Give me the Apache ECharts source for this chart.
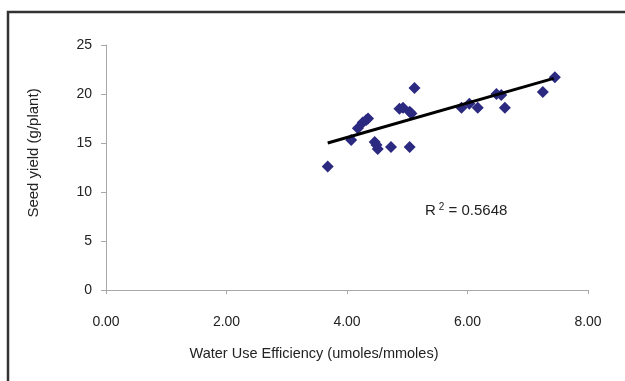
<!DOCTYPE html>
<html>
<head>
<meta charset="utf-8">
<script src="https://cdn.jsdelivr.net/npm/echarts@6/dist/echarts.min.js"></script>
<style>
html,body{margin:0;padding:0;background:#fff;}
#chart{width:625px;height:381px;}
</style>
</head>
<body>
<div id="chart"></div>
<script>
const wueValues = [3.68, 4.07, 4.18, 4.26, 4.32, 4.35, 4.46, 4.51, 4.49, 4.73, 4.87, 4.93, 5.04, 5.07, 5.12, 5.04, 5.90, 6.03, 6.17, 6.48, 6.56, 6.62, 7.25, 7.45];
const yieldValues = [12.6, 15.3, 16.5, 17.1, 17.35, 17.5, 15.1, 14.4, 14.8, 14.6, 18.5, 18.6, 18.2, 18.0, 20.6, 14.6, 18.6, 19.0, 18.6, 20.0, 19.9, 18.6, 20.2, 21.7];
const trendX = [3.68, 7.43];
const trendY = [15.0, 21.6];
const xTitle = 'Water Use Efficiency (umoles/mmoles)';
const yTitle = 'Seed yield (g/plant)';
const r2Text = '0.5648';

const points = wueValues.map((x, i) => [x, yieldValues[i]]);
const trend = trendX.map((x, i) => [x, trendY[i]]);

const chart = echarts.init(document.getElementById('chart'));
const font = 'Liberation Sans, Arial, sans-serif';
chart.setOption({
  animation: false,
  backgroundColor: '#fff',
  grid: { left: 106, right: 37, top: 45, bottom: 91 },
  xAxis: {
    type: 'value', min: 0, max: 8, interval: 2,
    axisLine: { show: true, lineStyle: { color: '#a8a8a8', width: 1 } },
    axisTick: { show: true, length: 4, lineStyle: { color: '#a8a8a8' } },
    axisLabel: { color: '#222', fontSize: 14, fontFamily: font, margin: 25,
      formatter: v => v.toFixed(2) },
    splitLine: { show: false }
  },
  yAxis: {
    type: 'value', min: 0, max: 25, interval: 5,
    axisLine: { show: true, lineStyle: { color: '#a8a8a8', width: 1 } },
    axisTick: { show: true, length: 5, lineStyle: { color: '#a8a8a8' } },
    axisLabel: { color: '#222', fontSize: 14, fontFamily: font, margin: 14 },
    splitLine: { show: false }
  },
  series: [
    {
      type: 'scatter', data: points, symbol: 'diamond', symbolSize: 12,
      itemStyle: { color: '#2b2a80', opacity: 1 }, z: 3
    },
    {
      type: 'line', data: trend, symbol: 'none',
      lineStyle: { color: '#000', width: 3 }, z: 4
    }
  ],
  graphic: [
    { type: 'rect', shape: { x: 8, y: 12, width: 800, height: 600 },
      style: { fill: 'none', stroke: '#333', lineWidth: 2.5 }, silent: true },
    { type: 'text', x: 314, y: 354,
      style: { text: xTitle, fontSize: 14.5, fontFamily: font, fill: '#222',
        align: 'center', verticalAlign: 'middle' } },
    { type: 'text', x: 34, y: 153, rotation: Math.PI / 2,
      style: { text: yTitle, fontSize: 15, fontFamily: font, fill: '#222',
        align: 'center', verticalAlign: 'middle' } },
    { type: 'text', left: 425, top: 202,
      style: { text: '{a|R}{s|2}{a| = ' + r2Text + '}',
        rich: { a: { fontSize: 15, fontFamily: font, fill: '#222' },
                s: { fontSize: 10, fontFamily: font, fill: '#222', verticalAlign: 'top', padding: [0, 0, 8, 3] } } } }
  ]
});
</script>
</body>
</html>
